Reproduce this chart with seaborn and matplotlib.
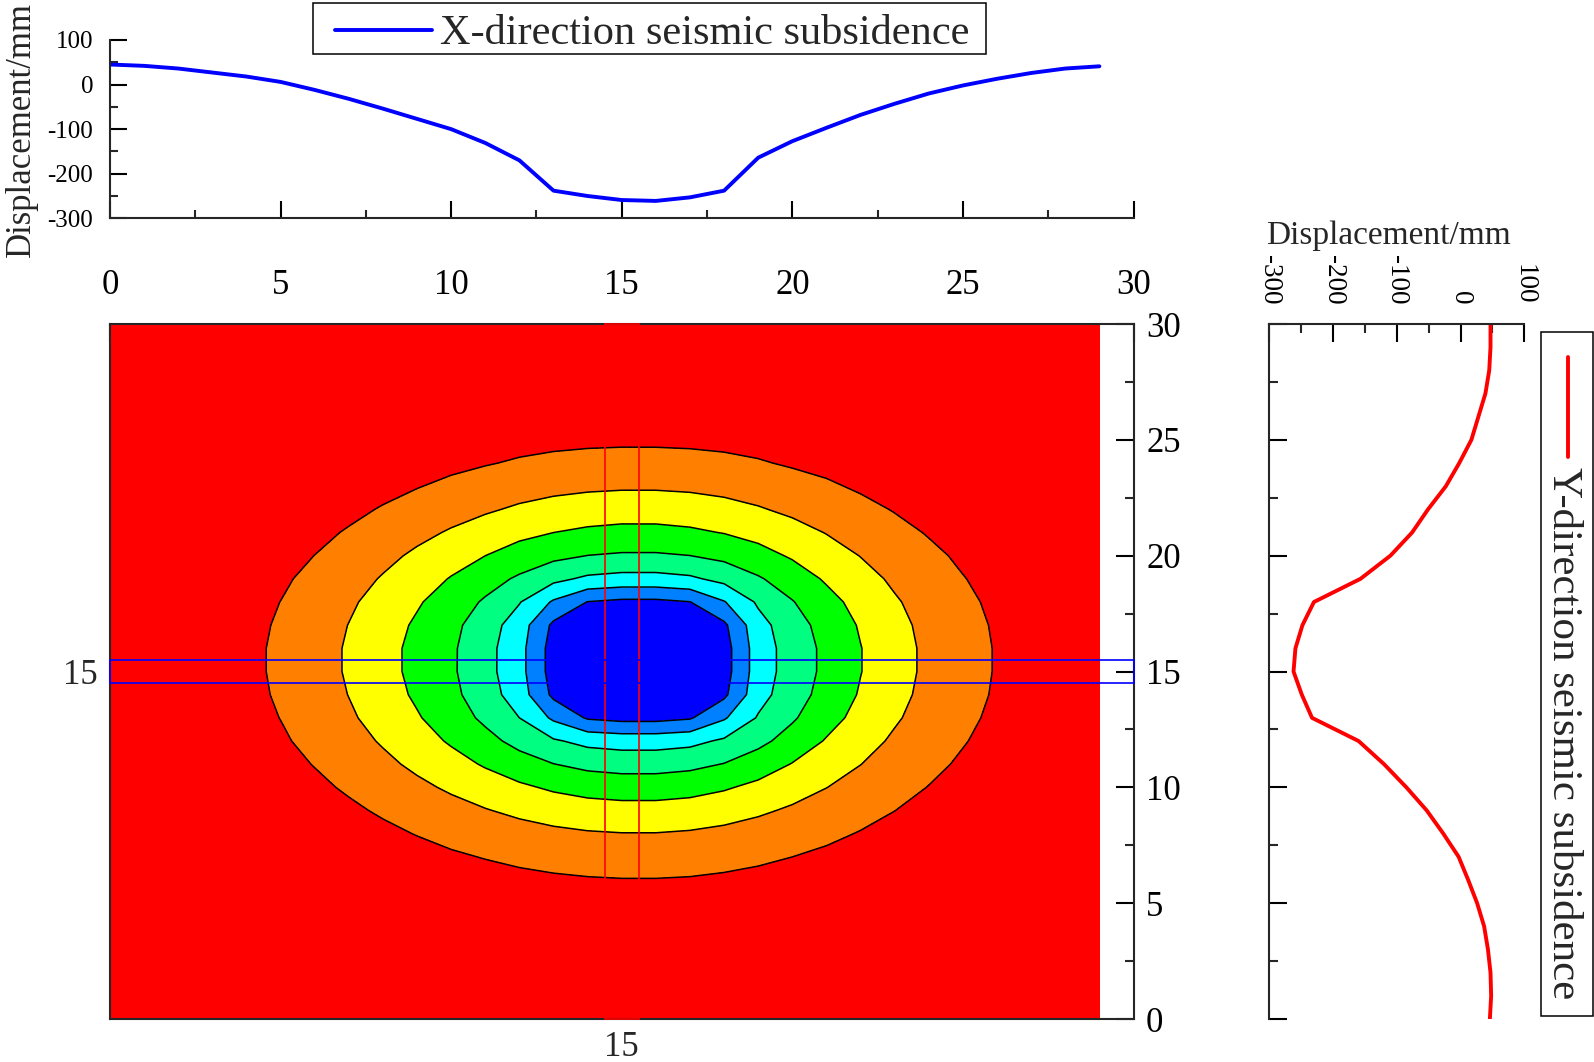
import numpy as np
import matplotlib
matplotlib.use("Agg")
import matplotlib.pyplot as plt
from matplotlib.patches import Rectangle
from matplotlib.lines import Line2D
from matplotlib.ticker import MultipleLocator
import seaborn as sns

# settlement profile along the y = 15 section (x = 0..29 m)
x_pos = list(range(30))
x_disp = [45, 42, 36, 27, 18, 6, -12, -32, -54, -77, -100, -131, -170, -238, -250,
          -259, -261, -253, -238, -164, -127, -97, -68, -43, -20, -2, 13, 26, 36, 41]

# settlement profile along the x = 15 section (y = 0..30 m)
y_pos = list(range(31))
y_disp = [46, 48, 47, 43, 37, 26, 12, -3, -27, -53, -85, -120, -160, -233, -249,
          -262, -259, -248, -230, -157, -110, -76, -51, -23, -2, 17, 28, 39, 45, 47, 47]

section = 15
trough = (15.5, 15.5)
levels = [-300, -221.25, -182.5, -143.75, -105, -66.25, -27.5, 11.25, 500]
level_colors = ["#0000ff", "#0080ff", "#00ffff", "#00ff80",
                "#00ff00", "#ffff00", "#ff8000", "#ff0000"]
# iso-line squareness: boxy near the trough, elliptic further out
shape_z = [-262, -221, -144, -66]
shape_p = [4.0, 3.4, 2.4, 2.0]

x_label = "X-direction seismic subsidence"
y_label = "Y-direction seismic subsidence"
disp_label = "Displacement/mm"


def half_width(zs, pos, vals, centre, side):
    # distance from the trough centre at which one branch of a section reaches zs
    pos = np.asarray(pos, dtype=float)
    vals = np.asarray(vals, dtype=float)
    keep = pos < centre if side < 0 else pos > centre
    d = np.abs(pos[keep] - centre)
    v = vals[keep]
    order = np.argsort(d)
    d = np.concatenate([[0.0], d[order]])
    v = np.concatenate([[min(vals.min(), v.min()) - 1], v[order]])
    v = np.maximum.accumulate(v)
    return np.maximum(np.interp(zs, v, d), 1e-6)


def build_field():
    # iso-lines whose four half-axes come from the two measured sections
    zs = np.linspace(-265, 60, 1500)
    xc, yc = trough
    hxl = half_width(zs, x_pos, x_disp, xc, -1)
    hxr = half_width(zs, x_pos, x_disp, xc, 1)
    hyb = half_width(zs, y_pos, y_disp, yc, -1)
    hyt = half_width(zs, y_pos, y_disp, yc, 1)
    p = np.interp(zs, shape_z, shape_p)[:, None, None]
    gx, gy = np.meshgrid(np.array(x_pos, float), np.array(y_pos, float))
    dx = (gx - xc)[None]
    dy = (gy - yc)[None]
    hx = np.where(dx < 0, hxl[:, None, None], hxr[:, None, None])
    hy = np.where(dy < 0, hyb[:, None, None], hyt[:, None, None])
    inside = np.abs(dx / hx) ** p + np.abs(dy / hy) ** p <= 1
    idx = np.where(inside.any(axis=0), inside.argmax(axis=0), len(zs) - 1)
    return zs[idx]


def main():
    sns.set_theme(style="ticks")
    plt.rcParams["font.family"] = ["Liberation Serif", "DejaVu Serif"]
    plt.rcParams["axes.unicode_minus"] = False
    plt.rcParams["xtick.direction"] = "in"
    plt.rcParams["ytick.direction"] = "in"
    plt.rcParams["axes.linewidth"] = 1.5

    W, H = 1594, 1062
    fig = plt.figure(figsize=(W / 100, H / 100), dpi=100)

    def box(l, t, r, b):
        return [l / W, 1 - b / H, (r - l) / W, (b - t) / H]

    ax_top = fig.add_axes(box(110, 40, 1133.5, 218.3))
    ax_map = fig.add_axes(box(110, 324, 1133.5, 1019))
    ax_side = fig.add_axes(box(1269.3, 324, 1524.3, 1019))

    # --- top: X-direction profile ---
    sns.lineplot(x=x_pos, y=x_disp, ax=ax_top, color="#0000ff", linewidth=2.8)
    ax_top.set_xlim(0, 30)
    ax_top.set_ylim(-300, 100)
    ax_top.xaxis.set_major_locator(MultipleLocator(5))
    ax_top.xaxis.set_minor_locator(MultipleLocator(2.5))
    ax_top.yaxis.set_major_locator(MultipleLocator(100))
    ax_top.yaxis.set_minor_locator(MultipleLocator(50))
    ax_top.tick_params(axis="x", which="both", labelbottom=False)
    ax_top.tick_params(which="major", length=12, width=1.5, labelsize=18, colors="black")
    ax_top.tick_params(which="minor", length=6, width=1.5)
    ax_top.tick_params(axis="y", pad=12)
    for s in ["top", "right"]:
        ax_top.spines[s].set_visible(False)
    ax_top.set_ylabel(disp_label, fontsize=25)
    ax_top.yaxis.set_label_coords(-0.07, 0.5)

    # --- centre: contour map ---
    z = build_field()
    ax_map.contourf(x_pos, y_pos, z, levels=levels, colors=level_colors)
    ax_map.contour(x_pos, y_pos, z, levels=levels[1:-1], colors="black",
                   linewidths=1.1, linestyles="solid")
    ax_map.add_patch(Rectangle((section - 0.5, 0), 1, 30, fill=False, ec="#ff0000",
                               lw=1.2, clip_on=False, zorder=5))
    ax_map.add_patch(Rectangle((0, section - 0.5), 30, 1, fill=False, ec="#0000ff",
                               lw=1.2, clip_on=False, zorder=6))
    ax_map.set_xlim(0, 30)
    ax_map.set_ylim(0, 30)
    for axis in [ax_map.xaxis, ax_map.yaxis]:
        axis.set_major_locator(MultipleLocator(5))
        axis.set_minor_locator(MultipleLocator(2.5))
    ax_map.tick_params(axis="x", which="both", top=True, bottom=False,
                       labeltop=True, labelbottom=False)
    ax_map.tick_params(axis="y", which="both", right=True, left=False,
                       labelright=True, labelleft=False)
    ax_map.tick_params(which="major", length=13, width=1.5, labelsize=25, colors="black")
    ax_map.tick_params(which="minor", length=6.5, width=1.5)
    ax_map.tick_params(axis="x", pad=16)
    ax_map.tick_params(axis="y", pad=9)

    sec_x = ax_map.secondary_xaxis("bottom")
    sec_x.set_xticks([section])
    sec_x.tick_params(length=0, labelsize=25, pad=9)
    sec_x.spines["bottom"].set_visible(False)
    sec_y = ax_map.secondary_yaxis("left")
    sec_y.set_yticks([section])
    sec_y.tick_params(length=0, labelsize=25, pad=9)
    sec_y.spines["left"].set_visible(False)

    # --- right: Y-direction profile ---
    sns.lineplot(x=y_disp, y=y_pos, ax=ax_side, color="#ff0000", linewidth=2.8,
                 orient="y", sort=False)
    ax_side.set_xlim(-300, 100)
    ax_side.set_ylim(0, 30)
    ax_side.xaxis.set_major_locator(MultipleLocator(100))
    ax_side.xaxis.set_minor_locator(MultipleLocator(50))
    ax_side.yaxis.set_major_locator(MultipleLocator(5))
    ax_side.yaxis.set_minor_locator(MultipleLocator(2.5))
    ax_side.tick_params(axis="x", which="both", top=True, bottom=False,
                        labeltop=True, labelbottom=False)
    ax_side.tick_params(axis="x", labelrotation=-90, pad=14)
    ax_side.tick_params(axis="y", which="both", labelleft=False)
    ax_side.tick_params(which="major", length=13, width=1.5, labelsize=19.5, colors="black")
    ax_side.tick_params(which="minor", length=6.5, width=1.5)
    for s in ["bottom", "right"]:
        ax_side.spines[s].set_visible(False)
    ax_side.xaxis.set_label_position("top")
    ax_side.set_xlabel(disp_label, fontsize=24)
    ax_side.xaxis.set_label_coords(0.467, 1.115)

    # --- legends (hand-made boxes) ---
    fig.add_artist(Rectangle((313 / W, 1 - 54 / H), 673 / W, 51 / H, transform=fig.transFigure,
                             fill=False, ec="black", lw=1.1))
    fig.add_artist(Line2D([335 / W, 432 / W], [1 - 30 / H, 1 - 30 / H],
                          transform=fig.transFigure, color="#0000ff", lw=2.8))
    fig.text(440 / W, 1 - 44 / H, x_label, fontsize=30.5, va="baseline", ha="left")

    fig.add_artist(Rectangle((1541 / W, 1 - 1016 / H), 52 / W, 684 / H, transform=fig.transFigure,
                             fill=False, ec="black", lw=1.1))
    fig.add_artist(Line2D([1568 / W, 1568 / W], [1 - 357 / H, 1 - 457 / H],
                          transform=fig.transFigure, color="#ff0000", lw=2.8))
    fig.text(1563 / W, 1 - 467 / H, y_label, fontsize=31, rotation=-90,
             va="top", ha="center")

    fig.savefig("out.png", dpi=100)
    plt.close(fig)


if __name__ == "__main__":
    main()
